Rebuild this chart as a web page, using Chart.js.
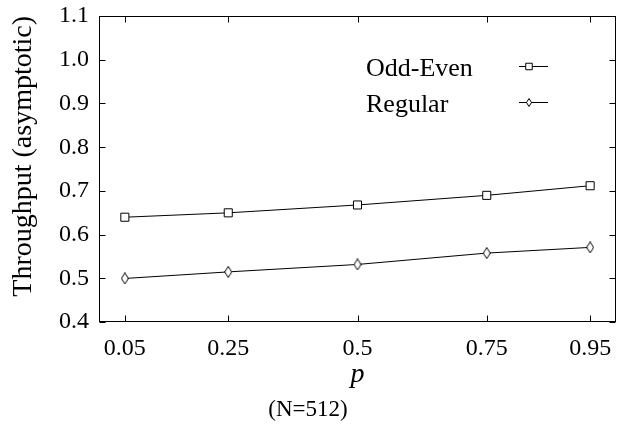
<!DOCTYPE html>
<html>
<head>
<meta charset="utf-8">
<script src="https://cdn.jsdelivr.net/npm/chart.js@4/dist/chart.umd.min.js"></script>
<style>
html,body{margin:0;padding:0;background:#fff;}
#wrap{width:639px;height:436px;}
</style>
</head>
<body>
<div id="wrap"><canvas id="c" width="639" height="436"></canvas></div>
<script>
// ---- data ----
const xValues = [0.05, 0.25, 0.5, 0.75, 0.95];
const xTickLabels = ['0.05', '0.25', '0.5', '0.75', '0.95'];
const oddEven = [0.640, 0.650, 0.668, 0.690, 0.712];
const regular = [0.500, 0.515, 0.532, 0.558, 0.571];
const yTicks = [0.4, 0.5, 0.6, 0.7, 0.8, 0.9, 1.0, 1.1];
const seriesNames = ['Odd-Even', 'Regular'];
const xTitle = 'p';
const yTitle = 'Throughput (asymptotic)';
const subTitle = '(N=512)';

const FONT = "'Liberation Serif', 'Times New Roman', serif";

function makeDiamond(w, h) {
  const c = document.createElement('canvas');
  c.width = w; c.height = h;
  const g = c.getContext('2d');
  g.strokeStyle = '#000';
  g.lineWidth = 1;
  g.fillStyle = '#fff';
  g.beginPath();
  g.moveTo(w / 2, 0.5);
  g.lineTo(w - 0.5, h / 2);
  g.lineTo(w / 2, h - 0.5);
  g.lineTo(0.5, h / 2);
  g.closePath();
  g.fill();
  g.stroke();
  return c;
}
const diamondBig = makeDiamond(8, 12);
const diamondSmall = makeDiamond(6, 9);

const framePlugin = {
  id: 'frame',
  afterDatasetsDraw(chart) {
    const {ctx, chartArea: a, scales: {x, y}} = chart;
    ctx.save();
    ctx.strokeStyle = '#000';
    ctx.lineWidth = 1;
    const L = Math.round(a.left) + 0.5, R = Math.round(a.right) - 0.5;
    const T = Math.round(a.top) + 0.5, B = Math.round(a.bottom) - 0.5;
    ctx.strokeRect(L, T, R - L, B - T);
    ctx.beginPath();
    const tl = 6;
    x.ticks.forEach(t => {
      const px = Math.round(x.getPixelForValue(t.value)) + 0.5;
      ctx.moveTo(px, B); ctx.lineTo(px, B - tl);
      ctx.moveTo(px, T); ctx.lineTo(px, T + tl);
    });
    y.ticks.forEach(t => {
      const py = Math.round(y.getPixelForValue(t.value)) + 0.5;
      ctx.moveTo(L, py); ctx.lineTo(L + tl, py);
      ctx.moveTo(R, py); ctx.lineTo(R - tl, py);
    });
    ctx.stroke();
    ctx.restore();
  }
};

const legendPlugin = {
  id: 'innerLegend',
  afterDraw(chart) {
    const {ctx, chartArea: a} = chart;
    const textX = a.left + 267;
    const lineX0 = a.left + 420, lineX1 = a.left + 449;
    const markX = a.left + 430;
    const baseY = a.top + 60, rowH = 35.7, lineOff = -10;
    ctx.save();
    ctx.font = "26px " + FONT;
    ctx.textAlign = 'left';
    ctx.textBaseline = 'alphabetic';
    chart.data.datasets.forEach((ds, i) => {
      const by = baseY + i * rowH;
      ctx.fillStyle = '#000';
      ctx.fillText(ds.label, textX, by);
      const ly = Math.round(by + lineOff) + 0.5;
      ctx.strokeStyle = '#000';
      ctx.lineWidth = 1;
      ctx.beginPath();
      ctx.moveTo(lineX0, ly); ctx.lineTo(lineX1, ly);
      ctx.stroke();
      ctx.fillStyle = '#fff';
      ctx.strokeStyle = '#000';
      Chart.helpers.drawPoint(ctx, {pointStyle: ds.legendStyle, radius: 4.6, borderWidth: 1, rotation: 0}, markX, ly);
    });
    ctx.restore();
  }
};

new Chart(document.getElementById('c'), {
  type: 'line',
  data: {
    datasets: [
      {
        label: seriesNames[0],
        data: xValues.map((v, i) => ({x: v, y: oddEven[i]})),
        borderColor: '#000',
        borderWidth: 1,
        pointStyle: 'rect',
        pointRadius: 5.7,
        pointBorderColor: '#000',
        pointBackgroundColor: '#fff',
        pointBorderWidth: 1,
        legendStyle: 'rect',
        tension: 0,
        fill: false
      },
      {
        label: seriesNames[1],
        data: xValues.map((v, i) => ({x: v, y: regular[i]})),
        borderColor: '#000',
        borderWidth: 1,
        pointStyle: diamondBig,
        pointRadius: 5,
        pointBorderColor: '#000',
        pointBackgroundColor: '#fff',
        legendStyle: diamondSmall,
        tension: 0,
        fill: false
      }
    ]
  },
  options: {
    responsive: false,
    animation: false,
    devicePixelRatio: 1,
    layout: {padding: {left: 0, right: 23, top: 16, bottom: 0}},
    plugins: {
      legend: {display: false},
      tooltip: {enabled: false},
      title: {
        display: true,
        position: 'bottom',
        text: subTitle,
        color: '#000',
        font: {family: FONT, size: 23, weight: 'normal', lineHeight: 1.2},
        padding: {top: 0, bottom: 12}
      }
    },
    scales: {
      x: {
        type: 'linear',
        min: 0,
        max: 1,
        afterBuildTicks: s => { s.ticks = xValues.map(v => ({value: v})); },
        afterFit: s => { s.height = 74.2; s.paddingLeft = 0; s.paddingRight = 0; },
        grid: {display: false, drawTicks: false},
        border: {display: false},
        ticks: {
          color: '#000',
          padding: 12,
          maxRotation: 0,
          autoSkip: false,
          font: {family: FONT, size: 24},
          callback: (v, i) => xTickLabels[i]
        },
        title: {
          display: true,
          text: xTitle,
          color: '#000',
          font: {family: FONT, size: 28, style: 'italic', lineHeight: 1.2},
          padding: {top: 0, bottom: 5}
        }
      },
      y: {
        type: 'linear',
        min: 0.4,
        max: 1.1,
        afterBuildTicks: s => { s.ticks = yTicks.map(v => ({value: v})); },
        afterFit: s => { s.width = 99; s.paddingTop = 0; s.paddingBottom = 0; },
        grid: {display: false, drawTicks: false},
        border: {display: false},
        ticks: {
          color: '#000',
          padding: 10,
          autoSkip: false,
          font: {family: FONT, size: 24},
          callback: v => Number(v).toFixed(1)
        },
        title: {
          display: true,
          text: yTitle,
          align: 'end',
          color: '#000',
          font: {family: FONT, size: 28, lineHeight: 1.2},
          padding: {top: 7, bottom: 0}
        }
      }
    }
  },
  plugins: [framePlugin, legendPlugin]
});
</script>
</body>
</html>
